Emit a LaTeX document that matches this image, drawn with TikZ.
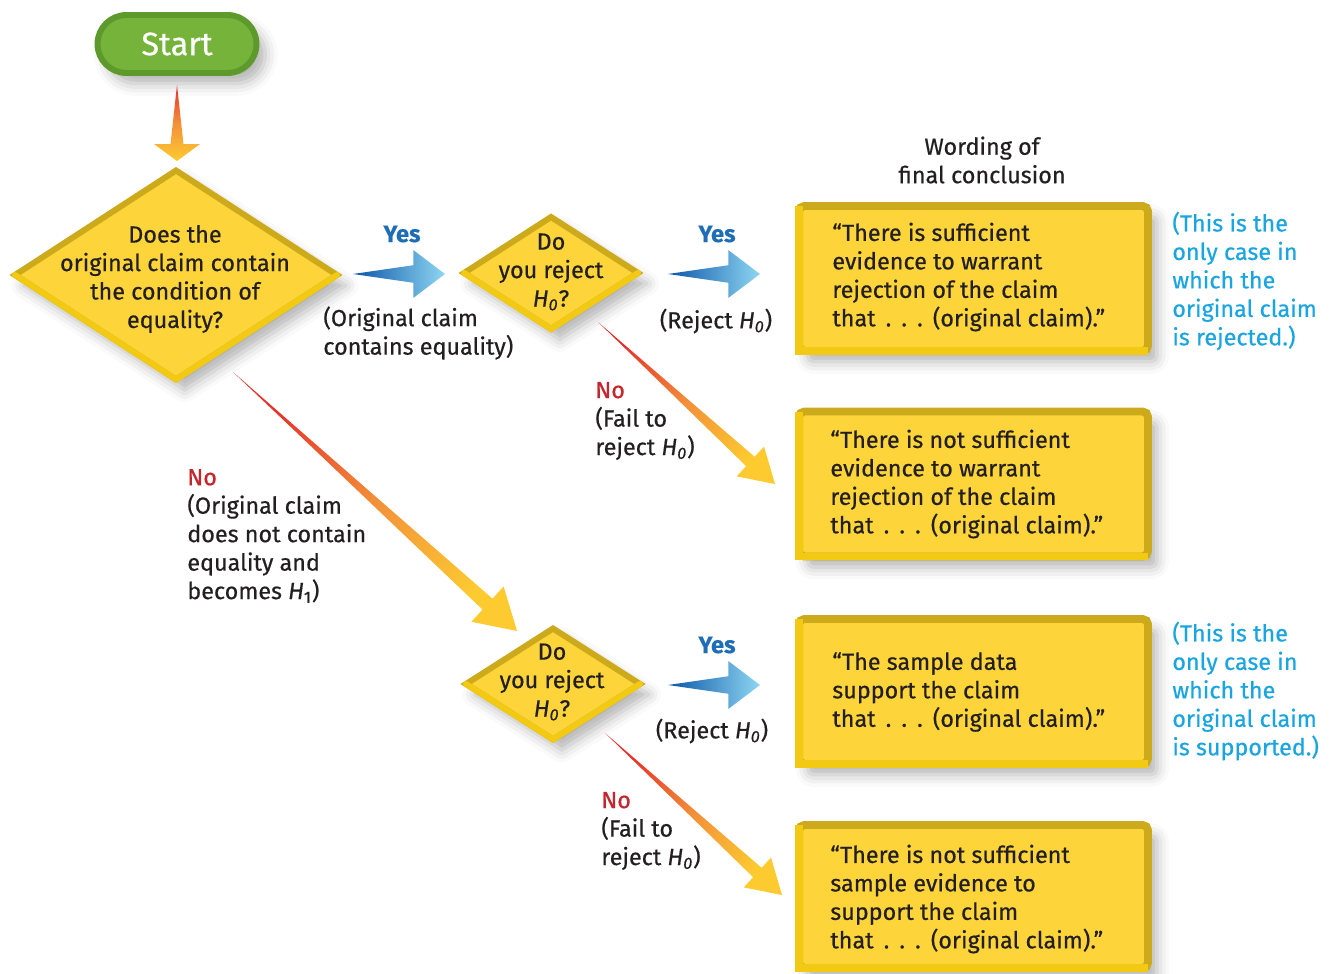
\documentclass[tikz,border=0pt]{standalone}
\usepackage{fontspec}
\setmainfont{Fira Sans}[FakeBold=0.5]
\usetikzlibrary{shapes.geometric,calc,shadows.blur}
\definecolor{fillY}{HTML}{FDD53A}
\definecolor{goldD}{HTML}{CCAA1C}
\definecolor{goldL}{HTML}{F2CA14}
\definecolor{greenF}{HTML}{76B33B}
\definecolor{greenD}{HTML}{5E9A2B}
\definecolor{yesBlue}{HTML}{1E6DB6}
\definecolor{noteBlue}{HTML}{1AA5E0}
\definecolor{noRed}{HTML}{C4262E}
\definecolor{arrRed}{HTML}{E6302A}
\definecolor{arrOrange}{HTML}{F2903A}
\definecolor{arrYellow}{HTML}{FDCB30}
\definecolor{blueD}{HTML}{0B56A8}
\definecolor{blueL}{HTML}{8ED6F2}
\definecolor{ink}{HTML}{231F20}
\newcommand{\Hnull}{\textit{H}\textsubscript{\textit{0}}}
\newcommand{\Hone}{\textit{H}\textsubscript{1}}
\newcommand{\tdots}{that\ \,.\ \,.\ \,.\ \,(original claim).''}
% block arrow: tail, tip, shaft half width, head half width, head length, style
\newcommand{\blockarrow}[6]{%
  \coordinate (hb) at ($(#2)!#5!(#1)$);
  \path[#6] (#1) -- ($(hb)!#3!90:(#2)$) -- ($(hb)!#4!90:(#2)$) -- (#2)
     -- ($(hb)!#4!-90:(#2)$) -- ($(hb)!#3!-90:(#2)$) -- cycle;}
\begin{document}
\begin{tikzpicture}[x=0.02cm,y=-0.02cm,
  txt/.style={font=\fontsize{13.3}{16.2}\selectfont, inner sep=0pt, text=ink},
  shd/.style={blur shadow={shadow xshift=5pt, shadow yshift=-6pt, shadow blur radius=7pt, shadow opacity=30}},
  dia/.style={diamond, fill=fillY, draw=goldD, line width=3.4pt, inner sep=0pt, outer sep=0pt, shd},
  bevel/.style={draw=goldL, line width=3.4pt, line join=miter, line cap=round},
  conc/.style={rectangle, rounded corners=3pt, fill=fillY, draw=goldD, line width=4.5pt,
     minimum width=6.98cm, minimum height=2.9cm, inner sep=0pt, outer sep=0pt, shd},
  yes/.style={txt, font=\fontsize{13.5}{16}\selectfont\bfseries, text=yesBlue},
  note/.style={txt, align=left, text=noteBlue, anchor=west},
  redarrow/.style={top color=arrRed, bottom color=arrYellow, middle color=arrOrange, shading angle=47.5},
  downarrow/.style={top color=arrRed, bottom color=arrYellow, middle color=arrOrange},
  bluearrow/.style={left color=blueD, right color=blueL}
]
\useasboundingbox (0,0) rectangle (1341,973);

% Start
\node[rectangle, rounded corners=0.58cm, fill=greenF, draw=greenD, line width=3.4pt,
  minimum width=3.18cm, minimum height=1.16cm, inner sep=0pt, shd,
  font=\fontsize{18.5}{20}\selectfont, text=white] (start) at (177,44) {Start};

% decision diamonds
\node[dia, minimum width=6.44cm, minimum height=4.18cm] (d1) at (176,275) {};
\draw[bevel] (d1.west) -- (d1.south) -- (d1.east);
\node[txt, align=center] (d1t) at (175,279) {Does the\\original claim contain\\the condition of\\equality?};

\node[dia, minimum width=3.48cm, minimum height=2.24cm] (d2) at (551,273) {};
\draw[bevel] (d2.west) -- (d2.south) -- (d2.east);
\node[txt, align=center] (d2t) at (551,272) {Do\\you reject\\\Hnull?};

\node[dia, minimum width=3.48cm, minimum height=2.22cm] (d3) at (553,684) {};
\draw[bevel] (d3.west) -- (d3.south) -- (d3.east);
\node[txt, align=center] (d3t) at (552,682) {Do\\you reject\\\Hnull?};

% conclusion boxes
\node[conc] (b1) at (973.5,278.5) {};
\draw[goldL, line width=4.5pt] (b1.north west) -- (b1.south west) -- (b1.south east);
\node[txt, align=left, anchor=west] (b1t) at (832,277) {``There is sufficient\\evidence to warrant\\rejection of the claim\\\tdots};

\node[conc] (b2) at (973.5,484) {};
\draw[goldL, line width=4.5pt] (b2.north west) -- (b2.south west) -- (b2.south east);
\node[txt, align=left, anchor=west] (b2t) at (830,484) {``There is not sufficient\\evidence to warrant\\rejection of the claim\\\tdots};

\node[conc] (b3) at (973.5,691.5) {};
\draw[goldL, line width=4.5pt] (b3.north west) -- (b3.south west) -- (b3.south east);
\node[txt, align=left, anchor=west] (b3t) at (832,692) {``The sample data\\support the claim\\\tdots};

\node[conc, minimum height=2.86cm] (b4) at (973.5,896.5) {};
\draw[goldL, line width=4.5pt] (b4.north west) -- (b4.south west) -- (b4.south east);
\node[txt, align=left, anchor=west] (b4t) at (830,899) {``There is not sufficient\\sample evidence to\\support the claim\\\tdots};

% header
\node[txt, align=center] (hdr) at (982,160) {Wording of\\final conclusion};

% arrows
\coordinate (a0s) at (177,85);  \coordinate (a0e) at (177,161);
\blockarrow{a0s}{a0e}{3.7pt}{13pt}{9.6pt}{downarrow}

\coordinate (y1s) at (353,274); \coordinate (y1e) at (445,274);
\blockarrow{y1s}{y1e}{5pt}{13.6pt}{18pt}{bluearrow}
\coordinate (y2s) at (668,274); \coordinate (y2e) at (760,274);
\blockarrow{y2s}{y2e}{5pt}{13.6pt}{18pt}{bluearrow}
\coordinate (y3s) at (668,685); \coordinate (y3e) at (760,685);
\blockarrow{y3s}{y3e}{5pt}{13.6pt}{18pt}{bluearrow}

\coordinate (n1s) at (233,372); \coordinate (n1e) at (517,631);
\blockarrow{n1s}{n1e}{4.2pt}{13.6pt}{22.7pt}{redarrow}
\coordinate (n2s) at (598,322); \coordinate (n2e) at (775,484);
\blockarrow{n2s}{n2e}{3.6pt}{11.5pt}{19pt}{redarrow}
\coordinate (n3s) at (605,733); \coordinate (n3e) at (782,895);
\blockarrow{n3s}{n3e}{3.6pt}{11.5pt}{19pt}{redarrow}

% labels
\node[yes] (yl1) at (402,234) {Yes};
\node[txt, align=left, anchor=west] (ol1) at (323,333) {(Original claim\\contains equality)};
\node[yes] (yl2) at (717,234) {Yes};
\node[txt] (rl1) at (716,321) {(Reject \Hnull)};
\node[txt, align=left, anchor=west] (nl1) at (595,421) {\textcolor{noRed}{No}\\(Fail to\\reject \Hnull)};
\node[txt, align=left, anchor=west] (nl0) at (187,536) {\textcolor{noRed}{No}\\(Original claim\\does not contain\\equality and\\becomes \Hone)};
\node[yes] (yl3) at (717,645) {Yes};
\node[txt] (rl2) at (712,731) {(Reject \Hnull)};
\node[txt, align=left, anchor=west] (nl2) at (601,831) {\textcolor{noRed}{No}\\(Fail to\\reject \Hnull)};

\node[note] (nt1) at (1172,281) {(This is the\\only case in\\which the\\original claim\\is rejected.)};
\node[note] (nt2) at (1172,691) {(This is the\\only case in\\which the\\original claim\\is supported.)};
\end{tikzpicture}
\end{document}
